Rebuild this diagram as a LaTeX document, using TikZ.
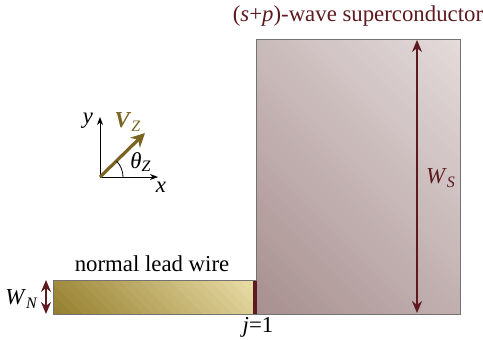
\documentclass[tikz,border=0pt]{standalone}
\usepackage{fontspec}
\newfontfamily\timesfont[Scale=1.14]{Liberation Serif}
\usetikzlibrary{arrows.meta}
\definecolor{scred}{HTML}{5E1A1E}
\definecolor{olive}{HTML}{7A6423}
\definecolor{scdark}{RGB}{168,144,144}
\definecolor{sclight}{RGB}{228,219,219}
\definecolor{lddark}{RGB}{150,128,48}
\definecolor{ldlight}{RGB}{234,222,168}

\begin{document}
\begin{tikzpicture}[x=0.5pt, y=-0.5pt,
    dim/.style={scred, semithick, {Stealth[length=6pt,width=5pt]}-{Stealth[length=6pt,width=5pt]}},
    axis/.style={black, -{Stealth[length=4pt,width=3pt]}},
    lbl/.style={inner sep=0pt}]

    \useasboundingbox (0,0) rectangle (483,339);

    % Define corner points of the two regions
    \coordinate (sctl) at (256,39);
    \coordinate (scbr) at (460,314);
    \coordinate (ldtl) at (53,280);
    \coordinate (ldbr) at (256,314);

    % superconductor, filled band by band from dark to light
    \begin{scope}
        \clip (sctl) rectangle (scbr);
        \foreach \i in {0,...,47} {
            \pgfmathtruncatemacro{\p}{\i*100/47}
            \fill[sclight!\p!scdark] (256+\i*10,314) -- (256+\i*10+11,314)
                -- ++(-400,-400) -- (256+\i*10-400,-86) -- cycle;
        }
    \end{scope}
    \draw[gray!90!black, thin] (sctl) rectangle (scbr);

    % lead wire, same way
    \begin{scope}
        \clip (ldtl) rectangle (ldbr);
        \foreach \i in {0,...,23} {
            \pgfmathtruncatemacro{\p}{\i*100/23}
            \fill[ldlight!\p!lddark] (53+\i*10,314) -- (53+\i*10+11,314)
                -- ++(-100,-100) -- (53+\i*10-100,214) -- cycle;
        }
    \end{scope}
    \draw[gray!90!black, thin] (ldtl) rectangle (ldbr);
    \draw[scred, line width=2pt] (255,280.5) -- (255,313.5);

    % labels
    \node[lbl, scred] (title) at (358,16) {\timesfont (\textit{s}+\textit{p})-wave superconductor};
    \node[lbl] (lead) at (152,264) {\timesfont normal lead wire};
    \node[lbl] (site) at (258,327) {\timesfont \textit{j}=1};

    % widths
    \coordinate (wst) at (417,40);
    \coordinate (wsb) at (417,313);
    \draw[dim] (wst) -- (wsb);
    \node[lbl, scred] (ws) at (441,178) {\timesfont \textit{W}\textsubscript{\textit{S}}};
    \coordinate (wnt) at (46,280);
    \coordinate (wnb) at (46,314);
    \draw[dim] (wnt) -- (wnb);
    \node[lbl] (wn) at (22,299) {\timesfont \textit{W}\textsubscript{\textit{N}}};

    % axes and field direction
    \coordinate (o) at (100,177);
    \coordinate (xe) at (158,177);
    \coordinate (ye) at (100,117);
    \coordinate (ve) at (145,133);
    \draw[axis] (o) -- (xe);
    \draw[axis] (o) -- (ye);
    \draw[olive, line width=1.6pt, -{Stealth[length=7pt,width=7pt]}] (o) -- (ve);
    \draw[black] (123,177) arc (0:-44:23);
    \node[lbl] (xl) at (161,187) {\timesfont \textit{x}};
    \node[lbl] (yl) at (88,121) {\timesfont \textit{y}};
    \node[lbl, olive] (vz) at (128,122) {\timesfont \textbf{\textit{V}}\textsubscript{\textit{Z}}};
    \node[lbl] (tz) at (141,162) {\timesfont \textit{θ}\textsubscript{\textit{Z}}};
\end{tikzpicture}
\end{document}
